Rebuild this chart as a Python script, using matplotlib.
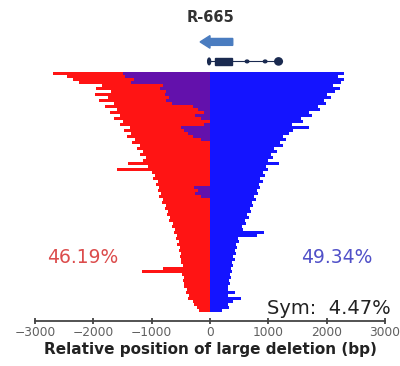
import matplotlib
matplotlib.use("Agg")
import matplotlib.pyplot as plt
from matplotlib.patches import FancyArrow, Rectangle, Ellipse
import numpy as np

# Deletion extents per event (bp), top (longest) to bottom (shortest)
left_ext = [-2700, -2450, -2350, -2250, -1850, -1950, -1700, -1980, -1750, -1900,
            -1650, -1800, -1600, -1720, -1550, -1650, -1500, -1550, -1380, -1470,
            -1350, -1420, -1280, -1330, -1200, -1260, -1150, -1200, -1100, -1150,
            -1400, -1060, -1600, -1000, -950, -980, -900, -930, -870, -890,
            -840, -870, -800, -820, -760, -780, -720, -740, -680, -700,
            -640, -660, -600, -620, -570, -590, -540, -560, -520, -540,
            -500, -520, -490, -500, -470, -800, -1160, -480, -450, -470,
            -440, -450, -400, -420, -360, -380, -300, -280, -230, -190]
right_ext = [2300, 2200, 2290, 2250, 2100, 2230, 2150, 2000, 2080, 1950,
             1980, 1850, 1880, 1700, 1750, 1560, 1600, 1400, 1700, 1420,
             1350, 1250, 1300, 1200, 1250, 1100, 1150, 1050, 1080, 1000,
             1190, 960, 1000, 900, 940, 860, 900, 840, 860, 800,
             820, 760, 780, 720, 740, 680, 700, 640, 660, 600,
             620, 540, 560, 930, 800, 480, 500, 450, 470, 420,
             440, 400, 420, 380, 400, 360, 380, 340, 360, 320,
             340, 300, 310, 420, 300, 530, 400, 300, 320, 200]
# where the right-side (blue) part starts for events overlapping the left side
blue_start = [-1500, -1450, -1300, -1350, -800, -850, -750, -780, -700, -760,
              -650, -300, -200, -100, -250, -150, 0, -100, -500, -450,
              -380, -300, -150, 0, 0, 0, 0, 0, 0, 0,
              0, 0, 0, 0, 0, 0, 0, 0, -270, -200,
              -250, -150, 0, 0, 0, 0, 0, 0, 0, 0,
              0, 0, 0, 0, 0, 0, 0, 0, 0, 0,
              0, 0, 0, 0, 0, 0, 0, 0, 0, 0,
              0, 0, 0, 0, 0, 0, 0, 0, 0, 0]

pct_left = "46.19%"
pct_right = "49.34%"
pct_sym = "Sym:  4.47%"
gene_name = "R-665"
xticks = [-3000, -2000, -1000, 0, 1000, 2000, 3000]

fig = plt.figure(figsize=(4.0, 3.66), dpi=100)
ax = fig.add_axes([35/400, 45/366, 350/400, 316/366])

rows = np.arange(len(left_ext))
L = np.array(left_ext)
R = np.array(right_ext)
B = np.array(blue_start)

ax.barh(rows, -L, left=L, height=0.92, color="#ff1414", linewidth=0)
ax.barh(rows, R, left=0, height=0.92, color="#1414ff", linewidth=0)
ax.barh(rows, -B, left=B, height=0.92, color="#1010ff", alpha=0.65, linewidth=0)

ax.set_xlim(-3000, 3000)
ax.set_ylim(82.5, -22.8)

# header: gene name, direction arrow, gene structure
ax.text(0, -18.5, gene_name, ha="center", va="center", fontsize=10.5,
        fontweight="bold", color="#333333")
ax.add_patch(FancyArrow(390, -10.5, -560, 0, width=2.3, head_width=4.2,
                        head_length=170, color="#4a7cc0", length_includes_head=True))
gc = "#1a2a50"
ax.plot([-20, 1240], [-4, -4], color=gc, lw=0.8)
ax.add_patch(Ellipse((-15, -4), 50, 2.2, color=gc))
ax.add_patch(Rectangle((90, -5.2), 290, 2.4, color=gc))
ax.add_patch(Ellipse((635, -4), 60, 0.9, color=gc))
ax.add_patch(Ellipse((945, -4), 60, 0.9, color=gc))
ax.add_patch(Ellipse((1175, -4), 130, 2.4, color=gc))

ax.text(-2190, 61.5, pct_left, ha="center", va="center", fontsize=13.5,
        color="#dc4c4c")
ax.text(2180, 61.5, pct_right, ha="center", va="center", fontsize=13.5,
        color="#5050c8")
ax.text(2030, 78.5, pct_sym, ha="center", va="center", fontsize=14,
        color="#222222", clip_on=False)

for s in ["top", "left", "right"]:
    ax.spines[s].set_visible(False)
ax.spines["bottom"].set_color("#444444")
ax.spines["bottom"].set_linewidth(1.3)
ax.set_yticks([])
ax.set_xticks(xticks)
ax.set_xticklabels([str(t).replace("-", "\u2212") for t in xticks])
ax.tick_params(axis="x", direction="inout", length=4, width=1.3,
               color="#444444", labelsize=8.8, labelcolor="#606060", pad=1.5)
ax.set_xlabel("Relative position of large deletion (bp)", fontsize=11,
              fontweight="bold", color="#222222", labelpad=2)

fig.savefig("out.png", dpi=100, facecolor="white")
